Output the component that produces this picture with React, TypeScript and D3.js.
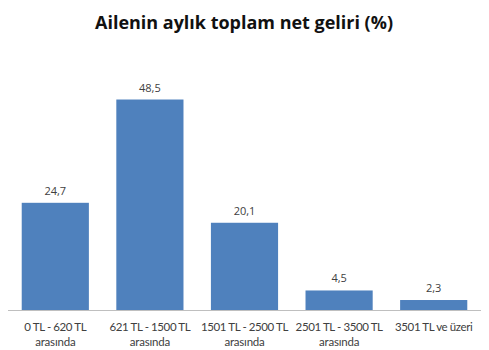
import React from "react";
import * as d3 from "d3";

const categoriesLine1 = ["0 TL - 620 TL", "621 TL - 1500 TL", "1501 TL - 2500 TL", "2501 TL - 3500 TL", "3501 TL ve üzeri"];
const categoriesLine2 = ["arasında", "arasında", "arasında", "arasında", ""];
const values = [24.7, 48.5, 20.1, 4.5, 2.3];
const valueLabels = ["24,7", "48,5", "20,1", "4,5", "2,3"];
const title = "Ailenin aylık toplam net geliri (%)";

const W = 489;
const H = 350;
const FONT = "'Open Sans', 'Liberation Sans', sans-serif";
const CAT_FONT = "Lato, 'Open Sans', sans-serif";

export default function App() {
  const x = d3
    .scaleBand<number>()
    .domain(d3.range(values.length))
    .range([8, 481])
    .paddingInner(0.29)
    .paddingOuter(0.145);
  const y = d3.scaleLinear().domain([0, 50]).range([310, 93]);

  return (
    <svg
      width={W}
      height={H}
      style={{ position: "absolute", left: 0, top: 0, background: "#fff" }}
    >
      <text
        x={244}
        y={29}
        textAnchor="middle"
        fontFamily={FONT}
        fontWeight="bold"
        fontSize={18}
        fill="#111"
        textLength={298}
        lengthAdjust="spacingAndGlyphs"
      >
        {title}
      </text>
      {values.map((v, i) => {
        const bx = x(i)!;
        const bw = x.bandwidth();
        const cx = bx + bw / 2;
        return (
          <g key={i}>
            <rect x={bx} y={y(v)} width={bw} height={y(0) - y(v)} fill="#4F81BD" />
            <text
              x={cx}
              y={y(v) - 8}
              textAnchor="middle"
              fontFamily={FONT}
              fontSize={11}
              fill="#404040"
            >
              {valueLabels[i]}
            </text>
            <text
              x={cx}
              y={331}
              textAnchor="middle"
              fontFamily={CAT_FONT}
              fontSize={11.5}
              letterSpacing={-0.4}
              fill="#404040"
            >
              {categoriesLine1[i]}
            </text>
            {categoriesLine2[i] && (
              <text
                x={cx}
                y={345.5}
                textAnchor="middle"
                fontFamily={CAT_FONT}
                fontSize={11.5}
                letterSpacing={-0.2}
                fill="#404040"
              >
                {categoriesLine2[i]}
              </text>
            )}
          </g>
        );
      })}
      <line x1={8} x2={481} y1={310.5} y2={310.5} stroke="#BFBFBF" strokeWidth={1} />
    </svg>
  );
}
